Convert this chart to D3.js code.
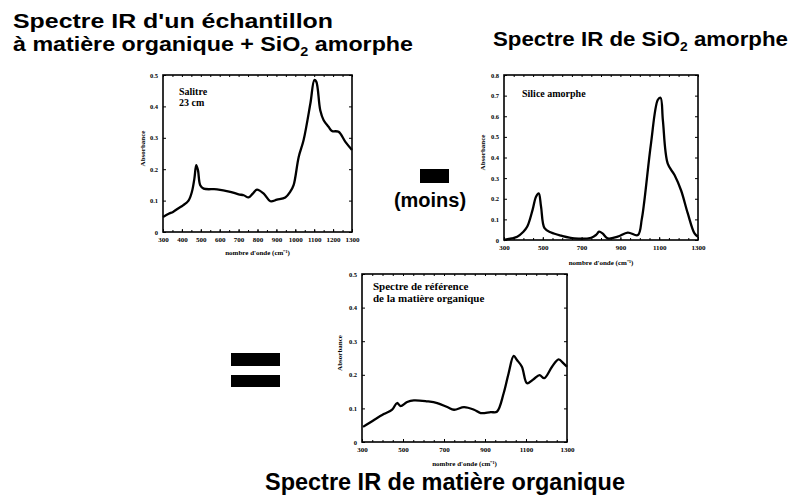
<!DOCTYPE html>
<html>
<head>
<meta charset="utf-8">
<script src="https://cdn.jsdelivr.net/npm/d3@7"></script>
<style>
  body { margin: 0; background: #fff; }
  .big { font-family: "Liberation Sans", Arial, sans-serif; font-weight: bold; fill: #000; }
  .small { font-family: "Liberation Serif", "Times New Roman", serif; font-weight: bold; fill: #000; }
</style>
</head>
<body>
<svg id="chart" width="801" height="503"></svg>
<script>
// spectre 1 : Salitre 23 cm
let wn1 = [300, 330, 353, 380, 406, 435, 453, 466, 476, 485, 497, 515, 586, 656, 700, 727, 753, 775, 797, 833, 868, 903, 947, 975, 991, 1018, 1044, 1080, 1101, 1111, 1132, 1150, 1176, 1194, 1229, 1265, 1300];
let abs1 = [0.048, 0.058, 0.064, 0.075, 0.085, 0.100, 0.128, 0.170, 0.213, 0.197, 0.149, 0.138, 0.136, 0.128, 0.120, 0.117, 0.110, 0.122, 0.135, 0.122, 0.098, 0.103, 0.110, 0.130, 0.149, 0.239, 0.293, 0.410, 0.484, 0.479, 0.388, 0.356, 0.335, 0.322, 0.319, 0.287, 0.261];

// spectre 2 : silice amorphe
let wn2 = [300, 340, 368, 400, 420, 447, 465, 479, 491, 509, 543, 595, 663, 749, 775, 790, 808, 834, 886, 938, 990, 1010, 1024, 1058, 1093, 1107, 1119, 1144, 1179, 1213, 1247, 1282, 1300];
let abs2 = [0.000, 0.008, 0.016, 0.040, 0.065, 0.145, 0.210, 0.226, 0.162, 0.057, 0.036, 0.021, 0.008, 0.011, 0.025, 0.040, 0.032, 0.008, 0.016, 0.036, 0.024, 0.100, 0.194, 0.470, 0.680, 0.690, 0.580, 0.370, 0.315, 0.240, 0.130, 0.032, 0.016];

// spectre 3 : matiere organique (difference)
let wn3 = [305, 357, 406, 447, 471, 488, 520, 553, 618, 667, 716, 749, 798, 847, 879, 928, 958, 991, 1015, 1040, 1056, 1080, 1105, 1137, 1166, 1189, 1227, 1259, 1283, 1300];
let abs3 = [0.045, 0.065, 0.083, 0.096, 0.116, 0.107, 0.119, 0.124, 0.121, 0.116, 0.104, 0.096, 0.104, 0.096, 0.086, 0.089, 0.090, 0.145, 0.204, 0.256, 0.244, 0.224, 0.175, 0.187, 0.199, 0.190, 0.224, 0.246, 0.234, 0.224];

let xTicks1 = [300, 400, 500, 600, 700, 800, 900, 1000, 1100, 1200, 1300];
let xTicks2 = [300, 500, 700, 900, 1100, 1300];
let yTicks5 = [0, 0.1, 0.2, 0.3, 0.4, 0.5];
let yTicks8 = [0, 0.1, 0.2, 0.3, 0.4, 0.5, 0.6, 0.7, 0.8];

let svg = d3.select("#chart");

let fmtY = d => d === 0 ? "0" : d3.format(".1f")(d);

function drawPanel(p) {
  let x = d3.scaleLinear().domain([300, 1300]).range([0, p.w]);
  let y = d3.scaleLinear().domain([0, p.ymax]).range([p.h, 0]);
  let g = svg.append("g").attr("transform", `translate(${p.left}, ${p.top})`);

  let minor = d3.range(300, 1301, 50);

  // minor ticks top and bottom
  g.append("g").attr("transform", `translate(0, ${p.h})`)
    .call(d3.axisBottom(x).tickValues(minor).tickSize(-2).tickFormat(""));
  g.append("g")
    .call(d3.axisTop(x).tickValues(minor).tickSize(-2).tickFormat(""));

  g.append("g").attr("transform", `translate(0, ${p.h})`)
    .call(d3.axisBottom(x).tickValues(p.xticks).tickSize(-3).tickPadding(5).tickFormat(d3.format("d")));
  let ya = g.append("g")
    .call(d3.axisLeft(y).tickValues(p.yticks).tickSize(-3).tickPadding(5).tickFormat(fmtY));
  g.append("g").attr("transform", `translate(${p.w}, 0)`)
    .call(d3.axisRight(y).tickValues(p.yticks).tickSize(-3).tickFormat(""));

  g.selectAll(".domain").remove();
  g.selectAll(".tick line").attr("stroke", "#000").attr("stroke-width", 1);
  g.selectAll(".tick text").attr("class", "small").attr("font-size", 7).attr("fill", "#000");
  ya.selectAll(".tick text").attr("font-size", 6.5);

  g.append("rect")
    .attr("width", p.w).attr("height", p.h)
    .attr("fill", "none").attr("stroke", "#000").attr("stroke-width", 1.6);

  let data = p.wn.map((d, i) => [d, p.abs[i]]);
  g.append("path")
    .datum(data)
    .attr("fill", "none")
    .attr("stroke", "#000")
    .attr("stroke-width", 2.3)
    .attr("stroke-linejoin", "round")
    .attr("d", d3.line().x(d => x(d[0])).y(d => y(d[1])).curve(d3.curveCatmullRom.alpha(0.5)));

  // labels
  g.append("text").attr("class", "small")
    .attr("font-size", 7)
    .attr("text-anchor", "middle")
    .attr("transform", `translate(${p.yLabelX}, ${p.h / 2 - 5}) rotate(-90)`)
    .text("Absorbance");

  g.append("text").attr("class", "small")
    .attr("font-size", 7)
    .attr("text-anchor", "middle")
    .attr("x", p.w / 2)
    .attr("y", p.h + p.xLabelDy)
    .text("nombre d'onde (cm\u207B\u00B9)");

  p.notes.forEach((t, i) => {
    g.append("text").attr("class", "small")
      .attr("font-size", p.noteSize)
      .attr("x", p.noteX)
      .attr("y", p.noteY + i * p.noteSize * 1.05)
      .text(t);
  });
}

drawPanel({ left: 163, top: 75, w: 189, h: 157, ymax: 0.5, wn: wn1, abs: abs1,
  xticks: xTicks1, yticks: yTicks5, yLabelX: -18, xLabelDy: 23,
  notes: ["Salitre", "23 cm"], noteX: 16, noteY: 20, noteSize: 10 });

drawPanel({ left: 504, top: 75, w: 194, h: 165, ymax: 0.8, wn: wn2, abs: abs2,
  xticks: xTicks2, yticks: yTicks8, yLabelX: -19, xLabelDy: 25,
  notes: ["Silice amorphe"], noteX: 18, noteY: 22, noteSize: 10 });

drawPanel({ left: 362, top: 274, w: 205, h: 168, ymax: 0.5, wn: wn3, abs: abs3,
  xticks: xTicks2, yticks: yTicks5, yLabelX: -20, xLabelDy: 24,
  notes: ["Spectre de référence", "de la matière organique"], noteX: 11, noteY: 16, noteSize: 11 });

// titres
function title(x, y, size, parts, len) {
  let t = svg.append("text").attr("class", "big")
    .attr("x", x).attr("y", y).attr("font-size", size)
    .attr("textLength", len).attr("lengthAdjust", "spacingAndGlyphs");
  parts.forEach(pt => {
    let s = t.append("tspan").text(pt.t);
    if (pt.sub) s.attr("font-size", size * 0.62).attr("dy", size * 0.25);
    if (pt.after) s.attr("dy", -size * 0.25);
  });
}

title(13, 28, 20, [{ t: "Spectre IR d'un échantillon" }], 320);
title(13, 51, 20, [{ t: "à matière organique + SiO" }, { t: "2", sub: true }, { t: " amorphe", after: true }], 400);
title(493, 46, 21, [{ t: "Spectre IR de SiO" }, { t: "2", sub: true }, { t: " amorphe", after: true }], 295);
title(265, 490, 23, [{ t: "Spectre IR de matière organique" }], 360);

// signes
let ops = [
  { x: 420, y: 169, w: 29, h: 14 },
  { x: 231, y: 353, w: 49, h: 13 },
  { x: 231, y: 375, w: 49, h: 12 }
];
svg.selectAll("rect.op").data(ops).enter().append("rect")
  .attr("class", "op")
  .attr("x", d => d.x).attr("y", d => d.y)
  .attr("width", d => d.w).attr("height", d => d.h)
  .attr("fill", "#000");

svg.append("text").attr("class", "big")
  .attr("x", 430).attr("y", 207).attr("font-size", 20)
  .attr("text-anchor", "middle")
  .text("(moins)");
</script>
</body>
</html>
